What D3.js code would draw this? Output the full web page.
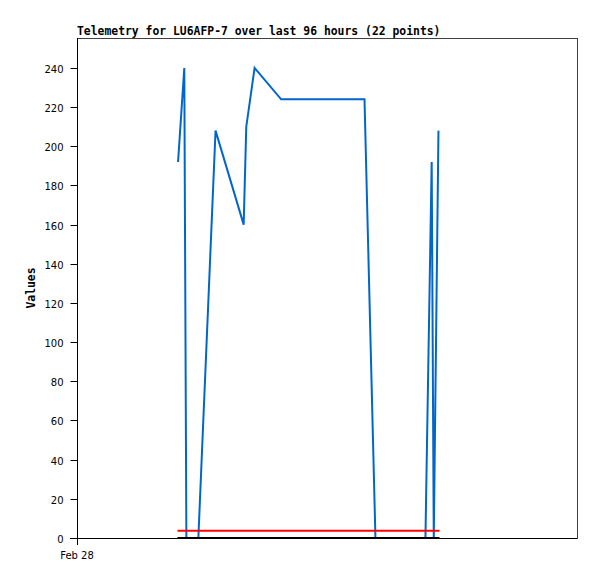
<!DOCTYPE html>
<html><head><meta charset="utf-8">
<script src="https://cdn.jsdelivr.net/npm/d3@7"></script>
<style>body{margin:0;background:#fff}svg{display:block}</style>
</head><body>
<script>
const title = "Telemetry for LU6AFP-7 over last 96 hours (22 points)";
const yLabel = "Values";
// hours after Feb 28 00:00
const hours = [19.4, 20.6, 21.0, 23.3, 26.6, 32.0, 32.5, 34.1, 39.2, 55.2, 57.3, 66.9, 68.1, 68.5, 69.4];
const values = [192, 240, 0, 0, 208, 160, 210, 240, 224, 224, 0, 0, 192, 0, 208];
const redStart = 19.3, redEnd = 69.6, redValue = 3.7;
const blackValue = 0;
const yTicks = [0,20,40,60,80,100,120,140,160,180,200,220,240];
const xTickLabel = "Feb 28";

const W = 597, H = 579;
const m = {l:77, t:38, r:577, b:538};
const svg = d3.select("body").append("svg").attr("width", W).attr("height", H);
const t0 = new Date(2023, 1, 28);
const toDate = h => new Date(t0.getTime() + h*3600e3);
const x = d3.scaleTime().domain([t0, toDate(96)]).range([m.l, m.r]);
const y = d3.scaleLinear().domain([0, 255.3]).range([m.b, m.t]);

svg.append("text").attr("x", 77).attr("y", 35)
  .attr("font-family", "DejaVu Sans Mono").attr("font-weight", "bold").attr("font-size", 11.4)
  .text(title);

// frame
svg.append("rect").attr("x", m.l+0.5).attr("y", m.t+0.5).attr("width", m.r-m.l).attr("height", m.b-m.t)
  .attr("fill", "none").attr("stroke", "#404040").attr("stroke-width", 1);

const data = hours.map((h,i)=>({d:toDate(h), v:values[i]}));
const line = d3.line().x(d=>x(d.d)).y(d=>y(d.v));
svg.append("path").datum(data).attr("d", line).attr("fill","none")
  .attr("stroke", "#0066cc").attr("stroke-width", 2).attr("stroke-linejoin","miter");

svg.append("line").attr("x1", x(toDate(redStart))).attr("x2", x(toDate(redEnd)))
  .attr("y1", y(redValue)).attr("y2", y(redValue)).attr("stroke", "#ff0000").attr("stroke-width", 2);
svg.append("line").attr("x1", x(toDate(redStart))).attr("x2", x(toDate(redEnd)))
  .attr("y1", y(blackValue)).attr("y2", y(blackValue)).attr("stroke", "#000").attr("stroke-width", 2);

// y axis
const yg = svg.append("g").attr("transform", `translate(${m.l+0.5},0)`);
yg.append("line").attr("x1",0).attr("x2",0).attr("y1",m.t).attr("y2",m.b).attr("stroke","#000");
yTicks.forEach(v=>{
  const yy = Math.round(y(v))+0.5;
  yg.append("line").attr("x1",-7).attr("x2",0).attr("y1",yy).attr("y2",yy).attr("stroke","#000");
  yg.append("text").attr("x",-14).attr("y",yy+4).attr("text-anchor","end")
    .attr("font-family","DejaVu Sans").attr("font-size",10).text(v);
});
// x axis
const xg = svg.append("g");
xg.append("line").attr("x1",m.l-7).attr("x2",m.r).attr("y1",m.b+0.5).attr("y2",m.b+0.5).attr("stroke","#000");
xg.append("line").attr("x1",x(t0)+0.5).attr("x2",x(t0)+0.5).attr("y1",m.b).attr("y2",m.b+7).attr("stroke","#000");
xg.append("text").attr("x",x(t0)).attr("y",559).attr("text-anchor","middle")
  .attr("font-family","DejaVu Sans").attr("font-size",10).text(xTickLabel);

svg.append("text").attr("transform","translate(35,288) rotate(-90)").attr("text-anchor","middle")
  .attr("font-family","DejaVu Sans Mono").attr("font-weight","bold").attr("font-size",11.4).text(yLabel);
</script>
</body></html>
